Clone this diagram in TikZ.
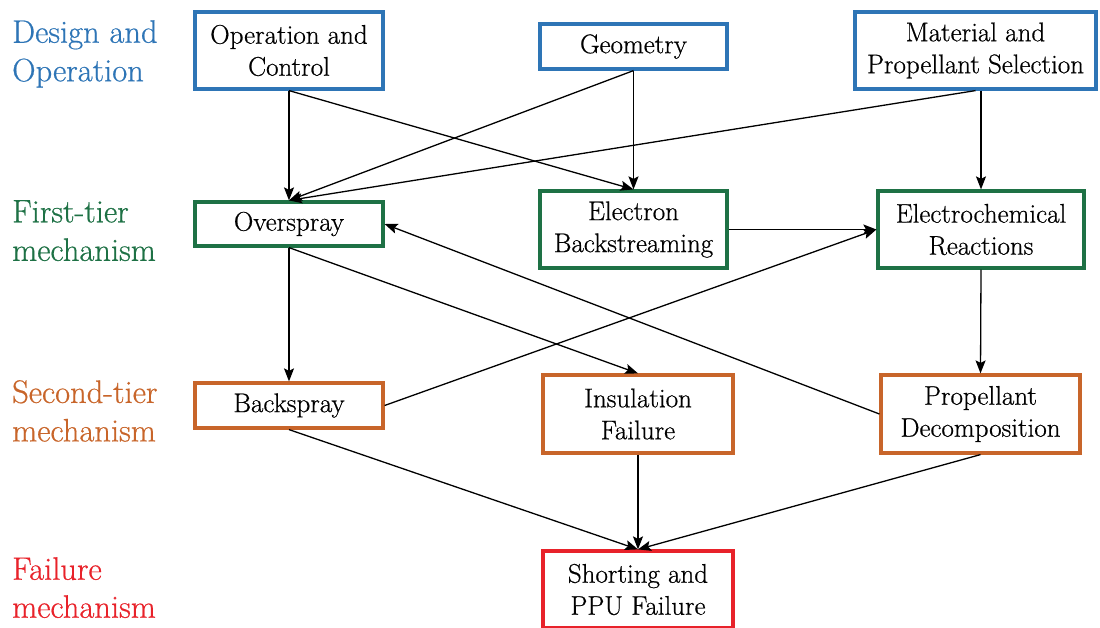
\documentclass[tikz,border=0pt]{standalone}
\usepackage{fontspec}
\setmainfont{Latin Modern Roman}[FakeBold=0.6]
\usetikzlibrary{arrows.meta}
\definecolor{cblue}{HTML}{2E75B6}
\definecolor{cgreen}{HTML}{1E7145}
\definecolor{corange}{HTML}{C8652A}
\definecolor{cred}{HTML}{E8222A}
\tikzset{
  box/.style={draw, line width=3.2pt, align=center, inner sep=0pt,
    font=\fontsize{27}{32}\selectfont, text=black},
  lbl/.style={anchor=north west, align=left, inner sep=0pt,
    font=\fontsize{32.5}{38.5}\selectfont},
  conn/.style={line width=1.3pt, -{Stealth[length=13pt,width=10pt,inset=2.5pt]}},
}
\begin{document}
\begin{tikzpicture}[x=1pt,y=-1pt]
\useasboundingbox (0,0) rectangle (1100,628);
% left labels
\node[lbl, text=cblue] (l1) at (12,20) {Design and\\Operation};
\node[lbl, text=cgreen] (l2) at (12,200) {First-tier\\mechanism};
\node[lbl, text=corange] (l3) at (12,380) {Second-tier\\mechanism};
\node[lbl, text=cred, font=\fontsize{32.5}{38}\selectfont] (l4) at (12,557) {Failure\\mechanism};
% boxes
\node[box, draw=cblue, minimum width=188pt, minimum height=77pt] (opc) at (289,50.5) {Operation and\\Control};
\node[box, draw=cblue, minimum width=187pt, minimum height=45pt] (geo) at (633.5,46.5) {Geometry};
\node[box, draw=cblue, minimum width=241pt, minimum height=77pt] (mat) at (975.5,50.5) {Material and\\Propellant Selection};
\node[box, draw=cgreen, minimum width=188pt, minimum height=44pt] (ovs) at (289,224) {Overspray};
\node[box, draw=cgreen, minimum width=187pt, minimum height=77pt] (ebs) at (633.5,229.5) {Electron\\Backstreaming};
\node[box, draw=cgreen, minimum width=206pt, minimum height=77pt] (ecr) at (981,229.5) {Electrochemical\\Reactions};
\node[box, draw=corange, minimum width=188pt, minimum height=45pt] (bks) at (289,405.5) {Backspray};
\node[box, draw=corange, minimum width=190pt, minimum height=78pt] (ins) at (638,414) {Insulation\\Failure};
\node[box, draw=corange, minimum width=199pt, minimum height=78pt] (pdc) at (980.5,414) {Propellant\\Decomposition};
\node[box, draw=cred, minimum width=190pt, minimum height=77pt] (spf) at (638,589.5) {Shorting and\\PPU Failure};
% connectors
\draw[conn] (opc.south) -- (ovs.north);
\draw[conn] (opc.south) -- (ebs.north);
\draw[conn] (geo.south) -- (ovs.north);
\draw[conn] (geo.south) -- (ebs.north);
\draw[conn] (mat.south) -- (ovs.north);
\draw[conn] (mat.south -| ecr.north) -- (ecr.north);
\draw[conn] (ebs.east) -- (ecr.west);
\draw[conn] (bks.east) -- (ecr.west);
\draw[conn] (ovs.south) -- (bks.north);
\draw[conn] (ovs.south) -- (ins.north);
\draw[conn] (pdc.west) -- (ovs.east);
\draw[conn] (ecr.south) -- (pdc.north);
\draw[conn] (bks.south) -- (spf.north);
\draw[conn] (ins.south) -- (spf.north);
\draw[conn] (pdc.south) -- (spf.north);
\end{tikzpicture}
\end{document}
